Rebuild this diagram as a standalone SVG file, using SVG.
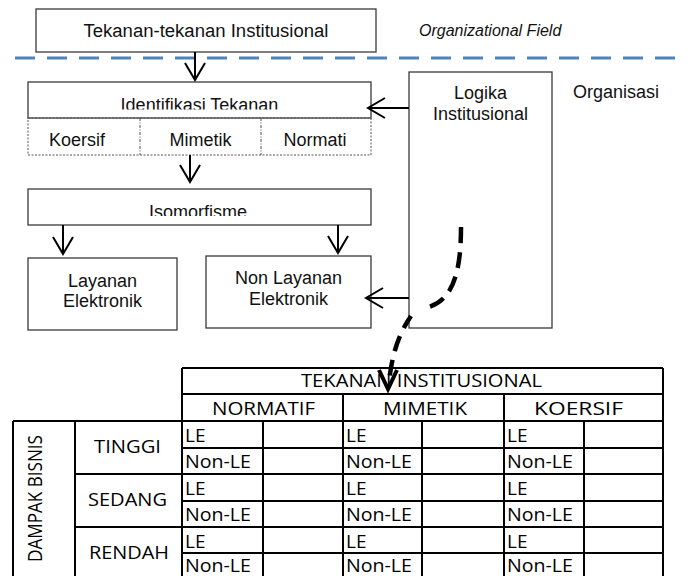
<svg xmlns="http://www.w3.org/2000/svg" width="687" height="576" viewBox="0 0 687 576">
<style>
.box{fill:#fff;stroke:#3a3a3a;stroke-width:1.3}
.t{font-family:"Liberation Sans",Arial,sans-serif;font-size:18px;fill:#111;text-anchor:middle}
.it{font-family:"Liberation Sans",Arial,sans-serif;font-size:16px;font-style:italic;fill:#111}
.dot{fill:none;stroke:#555;stroke-width:1;stroke-dasharray:2 1.5}
.dd{fill:none;stroke:#555;stroke-width:1;stroke-dasharray:3 1.5 1 1.5}
.arr{fill:none;stroke:#000;stroke-width:2;marker-end:url(#ah)}
.tl{fill:none;stroke:#000;stroke-width:2}
.tt{font-family:"Open Sans","Noto Sans",sans-serif;font-size:18px;fill:#000}
.le{font-family:"Open Sans","Noto Sans",sans-serif;font-size:19px;fill:#000}
</style>
<defs>
<marker id="ah" viewBox="-19 -12 21 24" markerWidth="21" markerHeight="24" refX="0" refY="0" markerUnits="userSpaceOnUse" orient="auto">
<path d="M-17,-10 L0,0 L-17,10" fill="none" stroke="#000" stroke-width="2"/>
</marker>
<clipPath id="c1"><rect x="0" y="0" width="687" height="109.5"/></clipPath>
<clipPath id="c2"><rect x="0" y="0" width="687" height="216"/></clipPath>
</defs>

<line x1="15" y1="58" x2="687" y2="58" stroke="#4f81bd" stroke-width="3" stroke-dasharray="20 12"/>
<text class="it" x="419" y="36">Organizational Field</text>
<text class="t" x="573" y="98" style="text-anchor:start">Organisasi</text>

<g id="tekanan">
<rect class="box" x="36" y="9" width="340" height="43"/>
<text class="t" x="206" y="37" textLength="245" lengthAdjust="spacingAndGlyphs">Tekanan-tekanan Institusional</text>
</g>

<g id="identifikasi">
<rect class="box" x="28" y="82" width="343" height="36"/>
<text class="t" x="199.5" y="111" clip-path="url(#c1)">Identifikasi Tekanan</text>
<rect class="dot" x="28" y="118" width="343" height="37"/>
<line class="dd" x1="140" y1="118" x2="140" y2="155"/>
<line class="dd" x1="261" y1="118" x2="261" y2="155"/>
<text class="t" x="77" y="146">Koersif</text>
<text class="t" x="200.5" y="146">Mimetik</text>
<text class="t" x="315" y="146">Normati</text>
</g>

<g id="isomorfisme">
<rect class="box" x="28" y="189" width="343" height="36"/>
<text class="t" x="198" y="218" clip-path="url(#c2)">Isomorfisme</text>
</g>

<g id="layanan">
<rect class="box" x="28" y="258" width="149" height="72"/>
<text class="t" x="102.5" y="287">Layanan</text>
<text class="t" x="102.5" y="307">Elektronik</text>
</g>

<g id="nonlayanan">
<rect class="box" x="206" y="256" width="165" height="72"/>
<text class="t" x="288.5" y="284">Non Layanan</text>
<text class="t" x="288.5" y="305">Elektronik</text>
</g>

<g id="logika">
<rect class="box" x="409" y="72" width="143" height="256"/>
<text class="t" x="480.5" y="99">Logika</text>
<text class="t" x="480.5" y="120">Institusional</text>
</g>

<g id="connectors">
<line class="arr" x1="195" y1="52" x2="195" y2="80"/>
<line class="arr" x1="190" y1="155" x2="190" y2="182"/>
<line class="arr" x1="63" y1="225" x2="63" y2="254"/>
<line class="arr" x1="338" y1="225" x2="338" y2="253"/>
<line class="arr" x1="409" y1="108" x2="368" y2="108"/>
<line class="arr" x1="409" y1="298" x2="366" y2="298"/>
</g>

<g id="tabel">
<line class="tl" x1="182" y1="368" x2="663" y2="368"/>
<line class="tl" x1="182" y1="394" x2="663" y2="394"/>
<line class="tl" x1="13" y1="421" x2="663" y2="421"/>
<line class="tl" x1="182" y1="448" x2="663" y2="448"/>
<line class="tl" x1="75" y1="474" x2="663" y2="474"/>
<line class="tl" x1="182" y1="501" x2="663" y2="501"/>
<line class="tl" x1="75" y1="527" x2="663" y2="527"/>
<line class="tl" x1="182" y1="553" x2="663" y2="553"/>
<line class="tl" x1="13" y1="421" x2="13" y2="580"/>
<line class="tl" x1="75" y1="421" x2="75" y2="580"/>
<line class="tl" x1="182" y1="368" x2="182" y2="580"/>
<line class="tl" x1="263" y1="421" x2="263" y2="580"/>
<line class="tl" x1="343" y1="394" x2="343" y2="580"/>
<line class="tl" x1="422" y1="421" x2="422" y2="580"/>
<line class="tl" x1="504" y1="394" x2="504" y2="580"/>
<line class="tl" x1="584" y1="421" x2="584" y2="580"/>
<line class="tl" x1="663" y1="368" x2="663" y2="580"/>

<text class="tt" x="301" y="387" textLength="241" lengthAdjust="spacingAndGlyphs">TEKANAN INSTITUSIONAL</text>
<text class="tt" x="212" y="415" textLength="103" lengthAdjust="spacingAndGlyphs">NORMATIF</text>
<text class="tt" x="383" y="415" textLength="84" lengthAdjust="spacingAndGlyphs">MIMETIK</text>
<text class="tt" x="534" y="415" textLength="89" lengthAdjust="spacingAndGlyphs">KOERSIF</text>
<text class="tt" x="94" y="453" textLength="67" lengthAdjust="spacingAndGlyphs">TINGGI</text>
<text class="tt" x="88" y="506" textLength="79" lengthAdjust="spacingAndGlyphs">SEDANG</text>
<text class="tt" x="89" y="559" textLength="80" lengthAdjust="spacingAndGlyphs">RENDAH</text>
<text class="tt" style="font-size:20px" transform="translate(42,562) rotate(-90)" textLength="127" lengthAdjust="spacingAndGlyphs">DAMPAK BISNIS</text>

<text class="le" x="185" y="442">LE</text>
<text class="le" x="185" y="468" textLength="66" lengthAdjust="spacingAndGlyphs">Non-LE</text>
<text class="le" x="185" y="495">LE</text>
<text class="le" x="185" y="521" textLength="66" lengthAdjust="spacingAndGlyphs">Non-LE</text>
<text class="le" x="185" y="548">LE</text>
<text class="le" x="185" y="572" textLength="66" lengthAdjust="spacingAndGlyphs">Non-LE</text>
<text class="le" x="346" y="442">LE</text>
<text class="le" x="346" y="468" textLength="66" lengthAdjust="spacingAndGlyphs">Non-LE</text>
<text class="le" x="346" y="495">LE</text>
<text class="le" x="346" y="521" textLength="66" lengthAdjust="spacingAndGlyphs">Non-LE</text>
<text class="le" x="346" y="548">LE</text>
<text class="le" x="346" y="572" textLength="66" lengthAdjust="spacingAndGlyphs">Non-LE</text>
<text class="le" x="507" y="442">LE</text>
<text class="le" x="507" y="468" textLength="66" lengthAdjust="spacingAndGlyphs">Non-LE</text>
<text class="le" x="507" y="495">LE</text>
<text class="le" x="507" y="521" textLength="66" lengthAdjust="spacingAndGlyphs">Non-LE</text>
<text class="le" x="507" y="548">LE</text>
<text class="le" x="507" y="572" textLength="66" lengthAdjust="spacingAndGlyphs">Non-LE</text>
</g>

<g id="dashed-connector">
<path d="M461,227 C461,275 452,302 425,308" fill="none" stroke="#000" stroke-width="4.5" stroke-dasharray="16 9"/>
<path d="M411,316 C398,335 392,355 389,382" fill="none" stroke="#000" stroke-width="4.5" stroke-dasharray="16 9" stroke-dashoffset="2"/>
<path d="M379,370 L388,389 L397,370" fill="none" stroke="#000" stroke-width="4" stroke-linejoin="miter"/>
</g>
</svg>
